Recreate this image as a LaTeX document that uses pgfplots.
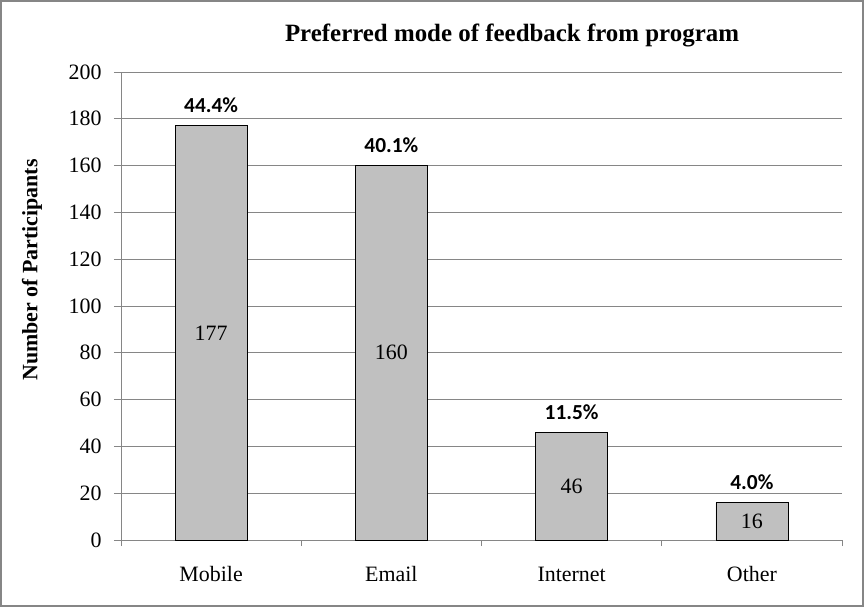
\documentclass[border=0pt]{standalone}
\usepackage{fontspec}
\setmainfont{Liberation Serif}
\newfontfamily\calib{Carlito}
\usepackage{pgfplots}
\usepackage{pgfplotstable}
\pgfplotsset{compat=1.18}
\definecolor{barfill}{HTML}{C0C0C0}
\definecolor{linegray}{HTML}{868686}
\pgfplotstableread{
x y half pct
0 177 88.5 44.4
1 160 80 40.1
2 46 23 11.5
3 16 8 4.0
}\data
\begin{document}
\begin{tikzpicture}
\useasboundingbox (0,0) rectangle (864bp,607bp);
\draw[linegray, line width=2bp] (1bp,1bp) rectangle (863bp,606bp);
\node[font=\bfseries\fontsize{25}{29}\selectfont] at (512bp,572bp) {Preferred mode of feedback from program};
\node[font=\bfseries\fontsize{22}{26}\selectfont, rotate=90] at (32bp,337bp) {Number of Participants};
\begin{axis}[at={(121bp,67bp)}, anchor=south west, scale only axis,
  width=721bp, height=468bp,
  xmin=-0.5, xmax=3.5, ymin=0, ymax=200,
  ytick={0,20,...,200},
  xtick={0,1,2,3}, xticklabels={Mobile,Email,Internet,Other},
  major x tick style={draw=none},
  minor xtick={-0.5,0.5,1.5,2.5,3.5},
  minor tick length=6bp, major tick length=7bp, tick align=outside,
  ymajorgrids, grid style={linegray, line width=0.75bp},
  axis x line*=bottom, axis y line*=left,
  axis line style={linegray, line width=0.75bp, -},
  tick style={linegray, line width=0.75bp},
  ticklabel style={font=\fontsize{22}{26}\selectfont, text=black},
  yticklabel style={xshift=-9bp},
  xticklabel style={anchor=base, yshift=-34bp},
  /pgf/number format/assume math mode=true,
  clip=false,
]
\addplot[ybar, bar width=72bp, fill=barfill, draw=black, line width=0.75bp,
  nodes near coords={\pgfplotspointmeta\%},
  point meta=explicit symbolic,
  every node near coord/.append style={font=\calib\bfseries\fontsize{21.5}{25}\selectfont, anchor=base, yshift=13bp}]
  table[x=x, y=y, meta=pct] {\data};
\addplot[draw=none, mark=none,
  nodes near coords, point meta=explicit symbolic,
  every node near coord/.append style={font=\fontsize{22}{26}\selectfont, anchor=center}]
  table[x=x, y=half, meta=y] {\data};
\end{axis}
\end{tikzpicture}
\end{document}
